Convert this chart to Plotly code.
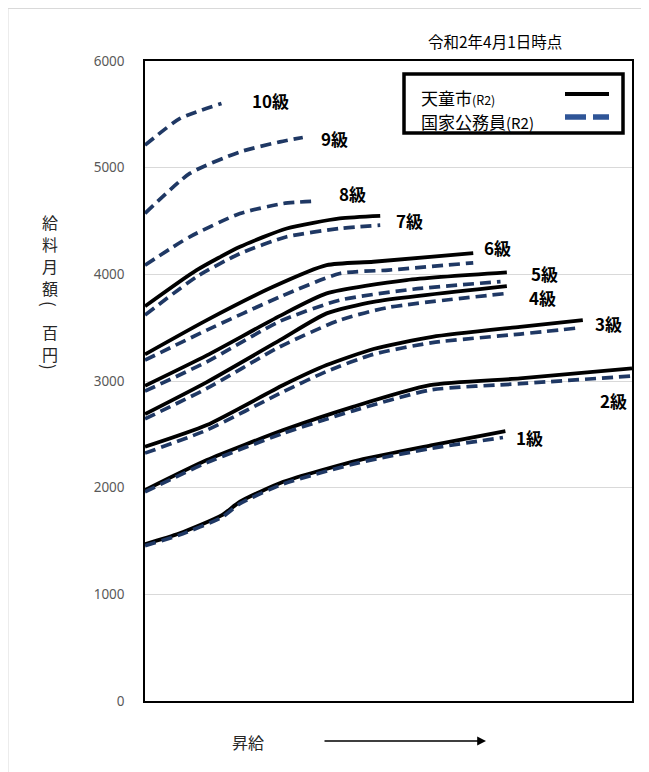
import plotly.graph_objects as go

# ---- data (x = 昇給 step position 0..100, y = 給料月額 in 百円) ----
grades = ["1級", "2級", "3級", "4級", "5級", "6級", "7級", "8級", "9級", "10級"]

tendo_x = {
    "1級": [0, 7, 15.7, 19.5, 28.4, 44, 59, 74],
    "2級": [0, 12.7, 28.4, 42.7, 58.5, 77, 100],
    "3級": [0, 12.7, 28.4, 37.3, 46.9, 59, 77, 89.9],
    "4級": [0, 12.7, 27.7, 37.3, 46.9, 74.3],
    "5級": [0, 12.7, 27.7, 37.3, 53.7, 74.3],
    "6級": [0, 12.7, 26.3, 37.3, 46.9, 67.4],
    "7級": [0, 10.6, 19.5, 29.1, 40, 48.3],
}
tendo_y = {
    "1級": [1470, 1570, 1740, 1868, 2055, 2259, 2399, 2530],
    "2級": [1977, 2259, 2540, 2758, 2961, 3024, 3118],
    "3級": [2383, 2587, 2962, 3149, 3300, 3414, 3508, 3571],
    "4級": [2690, 2990, 3383, 3634, 3742, 3889],
    "5級": [2955, 3240, 3610, 3821, 3946, 4018],
    "6級": [3250, 3571, 3883, 4086, 4118, 4198],
    "7級": [3700, 4039, 4258, 4430, 4524, 4548],
}

kokka_x = {
    "1級": [0, 7, 15.7, 19.5, 28.4, 44, 59, 73.5],
    "2級": [0, 12.7, 28.4, 42.7, 58.5, 77, 100],
    "3級": [0, 12.7, 28.4, 37.3, 46.9, 59, 77, 88.7],
    "4級": [0, 12.7, 27.7, 40, 50, 74.3],
    "5級": [0, 12.7, 27.7, 40, 55, 73],
    "6級": [0, 12.7, 27.7, 40, 50, 67.4],
    "7級": [0, 10.6, 19.5, 29.1, 40, 48.3],
    "8級": [0, 9.2, 19.5, 28.4, 34.9],
    "9級": [0, 9.2, 19.5, 27.7, 32.4],
    "10級": [0, 7.2, 15.7],
}
kokka_y = {
    "1級": [1455, 1555, 1720, 1850, 2035, 2235, 2370, 2470],
    "2級": [1960, 2235, 2510, 2720, 2915, 2975, 3046],
    "3級": [2324, 2540, 2900, 3090, 3250, 3360, 3440, 3496],
    "4級": [2645, 2930, 3321, 3571, 3690, 3821],
    "5級": [2905, 3180, 3560, 3758, 3860, 3932],
    "6級": [3196, 3477, 3789, 4008, 4040, 4108],
    "7級": [3618, 3977, 4195, 4352, 4430, 4461],
    "8級": [4086, 4352, 4570, 4664, 4686],
    "9級": [4571, 4946, 5148, 5242, 5283],
    "10級": [5211, 5461, 5601],
}

label_x = [79, 96.2, 95.1, 81.7, 82.1, 72.3, 54.4, 42.7, 39, 25.7]
label_y = [2474, 2821, 3543, 3786, 4011, 4255, 4508, 4761, 5277, 5633]

y_ticks = [0, 1000, 2000, 3000, 4000, 5000, 6000]

title_text = "令和2年4月1日時点"
legend_names = ["天童市", "国家公務員"]
x_title = "昇給"
y_title = "給料月額（百円）"

NAVY = "#1f3864"
JP = "Noto Sans CJK JP"

# screen-pixel helpers (plot area on screen: x 145..632, y 61..701)
def px(xp):
    return (xp - 145) / 487

def py(yp):
    return (701 - yp) / 640

fig = go.Figure()

for g in grades:
    if g in tendo_x:
        fig.add_trace(go.Scatter(
            x=tendo_x[g], y=tendo_y[g], mode="lines",
            line=dict(color="black", width=3.8, shape="spline", smoothing=0.6),
            showlegend=False, hoverinfo="skip"))
for g in grades:
    fig.add_trace(go.Scatter(
        x=kokka_x[g], y=kokka_y[g], mode="lines",
        line=dict(color=NAVY, width=3.7, dash="11px,6px", shape="spline", smoothing=0.6),
        showlegend=False, hoverinfo="skip"))

annotations = []
for g, lx, ly in zip(grades, label_x, label_y):
    annotations.append(dict(x=lx, y=ly, xref="x", yref="y", text="<b>" + g + "</b>",
                            xanchor="center", yanchor="middle",
                            showarrow=False, font=dict(family=JP, size=17, color="black")))

def ann(sx, sy, text, size, color="black", xanchor="center", angle=0):
    return dict(x=px(sx), y=py(sy), xref="paper", yref="paper", text=text,
                xanchor=xanchor, yanchor="middle", showarrow=False, textangle=angle,
                font=dict(family=JP, size=size, color=color))

# title
annotations.append(ann(495, 41, title_text, 15.5))
# y title (vertical, one character per cell)
y_pos = [222, 244, 266, 288, 304, 332, 354, 367]
for ch, yy in zip(y_title, y_pos):
    if ch == "（":
        annotations.append(ann(50, yy, "(", 17, "#262626", angle=90))
    elif ch == "）":
        annotations.append(ann(50, yy, ")", 17, "#262626", angle=90))
    else:
        annotations.append(ann(50, yy, ch, 16, "#262626"))
# x title + arrow
annotations.append(ann(248, 742, x_title, 16, "#262626"))
annotations.append(dict(x=px(486), y=py(741), xref="paper", yref="paper",
                        text="", showarrow=True, ax=-163, ay=0, axref="pixel", ayref="pixel",
                        arrowhead=2, arrowsize=1.1, arrowwidth=1.6, arrowcolor="black"))
# legend text
annotations.append(ann(419, 97, legend_names[0] + "<span style='font-size:12.5px'>(R2)</span>",
                       17, xanchor="left"))
annotations.append(ann(419, 121, legend_names[1] + "<span style='font-size:15px'>(R2)</span>",
                       17, xanchor="left"))

shapes = [
    # outer light frame
    dict(type="rect", xref="paper", yref="paper", x0=px(8), x1=px(700), y0=py(800), y1=py(8.5),
         line=dict(color="#d9d9d9", width=1), layer="below"),
    # legend box
    dict(type="rect", xref="paper", yref="paper", x0=px(404), x1=px(623), y0=py(133), y1=py(74),
         line=dict(color="black", width=3.5), fillcolor="white", layer="above"),
    # legend solid sample
    dict(type="line", xref="paper", yref="paper", x0=px(565), x1=px(609), y0=py(94), y1=py(94),
         line=dict(color="black", width=4)),
    # legend dashed sample
    dict(type="line", xref="paper", yref="paper", x0=px(565), x1=px(586), y0=py(117), y1=py(117),
         line=dict(color="#2f5597", width=5.5)),
    dict(type="line", xref="paper", yref="paper", x0=px(593), x1=px(609), y0=py(117), y1=py(117),
         line=dict(color="#2f5597", width=5.5)),
]

fig.update_layout(
    width=641, height=764,
    margin=dict(l=137, r=17, t=53, b=71),
    paper_bgcolor="white", plot_bgcolor="white",
    annotations=annotations, shapes=shapes,
    showlegend=False,
    xaxis=dict(range=[0, 100], showgrid=False, zeroline=False, showticklabels=False,
               showline=True, mirror=True, linecolor="black", linewidth=1.5, ticks=""),
    yaxis=dict(range=[0, 6000], tickvals=y_ticks, showgrid=True, gridcolor="#d9d9d9", gridwidth=1,
               zeroline=False, showline=True, mirror=True, linecolor="black", linewidth=1.5,
               ticks="", ticklabelstandoff=16,
               tickfont=dict(family="Noto Sans", size=13.5, color="#595959")),
)

fig.write_html("out.html")
